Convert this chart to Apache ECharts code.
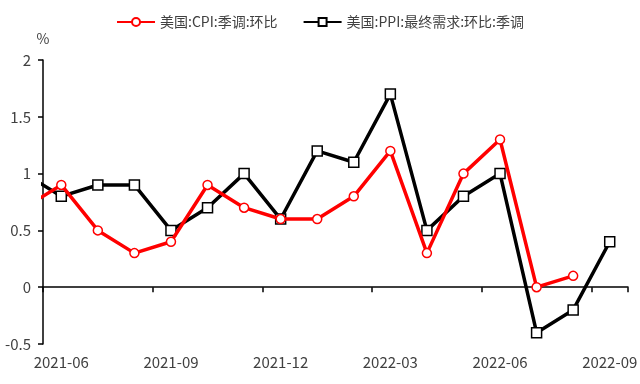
<!DOCTYPE html>
<html>
<head>
<meta charset="utf-8">
<script src="https://cdn.jsdelivr.net/npm/echarts@6/dist/echarts.min.js"></script>
<style>html,body{margin:0;padding:0;background:#fff}#c{width:640px;height:384px}</style>
</head>
<body>
<div id="c"></div>
<script>
// Months shown on the axis
var categories = ['2021-06','2021-07','2021-08','2021-09','2021-10','2021-11','2021-12','2022-01','2022-02','2022-03','2022-04','2022-05','2022-06','2022-07','2022-08','2022-09'];
// Value for the month before the first category (only partly visible, clipped at the axis)
var cpiPrev = 0.7;
var ppiPrev = 1.0;
// 美国:CPI:季调:环比
var cpiValues = [0.9, 0.5, 0.3, 0.4, 0.9, 0.7, 0.6, 0.6, 0.8, 1.2, 0.3, 1.0, 1.3, 0.0, 0.1, null];
// 美国:PPI:最终需求:环比:季调
var ppiValues = [0.8, 0.9, 0.9, 0.5, 0.7, 1.0, 0.6, 1.2, 1.1, 1.7, 0.5, 0.8, 1.0, -0.4, -0.2, 0.4];
var seriesNames = ['美国:CPI:季调:环比', '美国:PPI:最终需求:环比:季调'];
var yTicks = [-0.5, 0, 0.5, 1, 1.5, 2];

function toPoints(prev, vals) {
  var pts = [[-1, prev]];
  vals.forEach(function (v, i) { if (v !== null) pts.push([i, v]); });
  return pts;
}

var font = '"Noto Sans CJK SC", "Noto Sans", sans-serif';
var txt = '#404040';
var chart = echarts.init(document.getElementById('c'));
chart.setOption({
  animation: false,
  textStyle: { fontFamily: font },
  grid: { left: 43, right: 12, top: 60, bottom: 40, containLabel: false, outerBoundsMode: 'none' },
  legend: {
    top: 10, left: 'center',
    itemWidth: 38, itemHeight: 10, itemGap: 25,
    textStyle: { fontSize: 14, color: txt, fontFamily: font },
    data: seriesNames
  },
  xAxis: [
    {
      type: 'category', data: categories, boundaryGap: true,
      axisLine: { onZero: true, lineStyle: { color: '#000', width: 1.5 } },
      axisTick: { show: true, interval: 2, length: 5, lineStyle: { color: '#000', width: 1.5 } },
      axisLabel: { interval: 2, margin: 11, fontSize: 15, color: txt, fontFamily: font },
      splitLine: { show: false }
    },
    {
      type: 'value', min: -0.5, max: 15.5, show: false
    }
  ],
  yAxis: {
    type: 'value', min: yTicks[0], max: yTicks[yTicks.length - 1], interval: 0.5,
    name: '%', nameLocation: 'end', nameGap: 14,
    nameTextStyle: { fontSize: 14, color: txt, fontFamily: font, align: 'center' },
    axisLine: { show: true, onZero: false, lineStyle: { color: '#000', width: 1.5 } },
    axisTick: { show: true, length: 5, lineStyle: { color: '#000', width: 1.5 } },
    axisLabel: { fontSize: 15, color: txt, margin: 12, fontFamily: font },
    splitLine: { show: false }
  },
  series: [
    {
      name: seriesNames[0], type: 'line', xAxisIndex: 1, clip: true,
      data: toPoints(cpiPrev, cpiValues),
      symbol: 'circle', symbolSize: 9, showAllSymbol: true,
      lineStyle: { color: '#FF0000', width: 3.5 },
      itemStyle: { color: '#fff', borderColor: '#FF0000', borderWidth: 1.5 },
      z: 3
    },
    {
      name: seriesNames[1], type: 'line', xAxisIndex: 1, clip: true,
      data: toPoints(ppiPrev, ppiValues),
      symbol: 'rect', symbolSize: 10, showAllSymbol: true,
      lineStyle: { color: '#000', width: 3.5 },
      itemStyle: { color: '#fff', borderColor: '#000', borderWidth: 1.5 },
      z: 2
    }
  ]
});
</script>
</body>
</html>
